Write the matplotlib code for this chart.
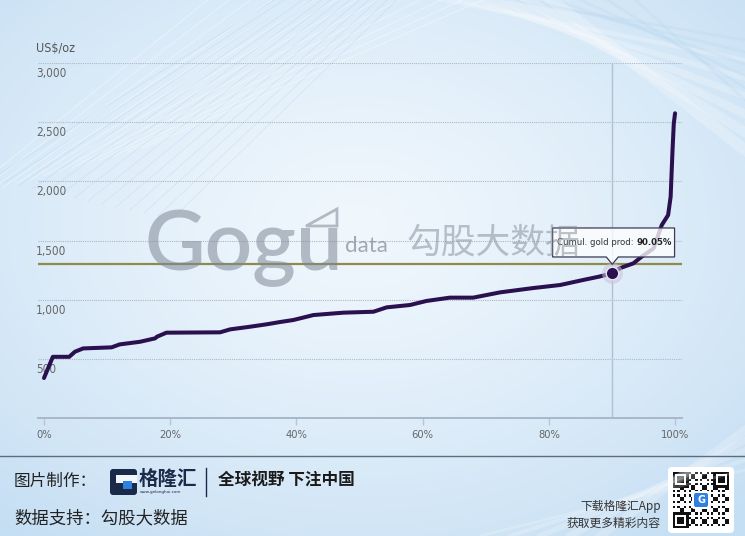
import numpy as np
import matplotlib
matplotlib.use("Agg")
import matplotlib.pyplot as plt
from matplotlib.patches import FancyBboxPatch, Polygon, Rectangle
from matplotlib.transforms import ScaledTranslation, blended_transform_factory

# ---------------- data ----------------
cum_prod_pct = [0, 1.4, 4.0, 4.9, 6.2, 10.7, 12.0, 15.2, 17.6, 17.9, 19.4, 27.9,
                29.5, 32.6, 35.3, 37.4, 39.5, 42.7, 47.4, 52.2, 54.3, 58.0, 60.6,
                64.3, 68.0, 72.3, 77.5, 81.8, 85.4, 88.0, 90.05, 91.3, 93.4, 94.7,
                96.6, 97.9, 98.9, 99.3, 99.6, 99.8, 100.0]
cost_usd_oz = [338, 517, 517, 560, 588, 597, 622, 644, 673, 687, 721, 724,
               749, 771, 792, 811, 828, 870, 890, 898, 935, 955, 989,
               1017, 1017, 1062, 1098, 1124, 1166, 1195, 1223, 1267, 1307, 1363,
               1434, 1631, 1715, 1870, 2265, 2490, 2575]
gold_price = 1300
highlight_pct = 90.05
x_ticks = [0, 20, 40, 60, 80, 100]
x_tick_labels = ["0%", "20%", "40%", "60%", "80%", "100%"]
y_ticks = [500, 1000, 1500, 2000, 2500, 3000]
y_tick_labels = ["500", "1,000", "1,500", "2,000", "2,500", "3,000"]
y_unit = "US$/oz"
tooltip_label = "Cumul. gold prod: "
tooltip_value = "90.05%"

W, H = 745, 536
NARROW = dict(family="DejaVu Sans", fontstretch="condensed")
CJK = ["Noto Sans CJK SC", "DejaVu Sans"]

fig = plt.figure(figsize=(W / 100, H / 100), dpi=100)

# ---------------- background ----------------
bg = fig.add_axes([0, 0, 1, 1], zorder=0)
bg.set_xlim(0, W)
bg.set_ylim(H, 0)
bg.set_axis_off()
yy, xx = np.mgrid[0:H, 0:W]
d = np.sqrt(((xx - 0.48 * W) / (0.75 * W)) ** 2 + ((yy - 0.42 * H) / (0.75 * H)) ** 2)
d = np.clip(d, 0, 1)
c0 = np.array([240, 247, 253]) / 255
c1 = np.array([196, 222, 243]) / 255
img = c0[None, None, :] * (1 - d[..., None] ** 1.3) + c1[None, None, :] * (d[..., None] ** 1.3)
bg.imshow(img, extent=(0, W, H, 0), aspect="auto", interpolation="bilinear")

# decorative thin lines top-left
for k in range(14):
    x0 = -40 + k * 14
    bg.plot([x0, x0 + 260 + k * 8], [200 - k * 4, -10], color="white", lw=0.6, alpha=0.45)
    bg.plot([x0 + 30, x0 + 330 - k * 5], [180 + k * 3, -10], color="#a9cbea", lw=0.5, alpha=0.35)
# soft bands top-right
for k in range(6):
    bg.plot([420 + k * 25, 745], [-5, 60 + k * 18], color="white", lw=3 + k, alpha=0.22)
    bg.plot([480 + k * 30, 745], [-5, 40 + k * 12], color="#b5d4ee", lw=2, alpha=0.22)
# bands bottom right
for k in range(5):
    bg.plot([480 + k * 30, 745], [536, 470 - k * 10], color="white", lw=2 + k, alpha=0.2)

# ---------------- main chart ----------------
ax = fig.add_axes([38 / W, 1 - 418 / H, (682 - 38) / W, (418 - 63) / H], zorder=2)
ax.set_facecolor("none")
ax.set_xlim(-0.95, 101.1)
ax.set_ylim(0, 3000)
for s in ["left", "right", "top"]:
    ax.spines[s].set_visible(False)
ax.spines["bottom"].set_color("#a9b8c8")
ax.spines["bottom"].set_linewidth(1.4)

ax.set_yticks(y_ticks)
ax.set_yticklabels([])
ax.tick_params(axis="y", length=0)
for v in y_ticks:
    ax.axhline(v, color="#aeb8c4", lw=0.8, ls=(0, (1, 1)), zorder=1)

ytr = blended_transform_factory(ax.transAxes, ax.transData) + ScaledTranslation(-2 / 100, -4 / 100, fig.dpi_scale_trans)
for v, lab in zip(y_ticks, y_tick_labels):
    ax.text(0, v, lab, transform=ytr, ha="left", va="top", fontsize=8.5,
            color="#666666", **NARROW)
ax.text(0, 1, y_unit, transform=ax.transAxes + ScaledTranslation(-2 / 100, 15 / 100, fig.dpi_scale_trans),
        ha="left", va="center", fontsize=9, color="#555555", **NARROW)

ax.set_xticks(x_ticks)
ax.set_xticklabels(x_tick_labels, fontsize=8, color="#666666", **NARROW)
ax.tick_params(axis="x", length=5, width=1, color="#b8c6d4", pad=4)

# crosshair
ax.axvline(highlight_pct, color="#b4c0cc", lw=1, zorder=1)
# gold price line
ax.axhline(gold_price, color="#8e8b4c", lw=1.6, zorder=2)
# cost curve
ax.plot(cum_prod_pct, cost_usd_oz, color="#2b1050", lw=2.9, solid_joinstyle="round",
        solid_capstyle="round", zorder=3)

hy = float(np.interp(highlight_pct, cum_prod_pct, cost_usd_oz))
ax.plot([highlight_pct], [hy], "o", ms=15, color="#c9c0dc", alpha=0.55, zorder=4, mec="none")
ax.plot([highlight_pct], [hy], "o", ms=9, color="#2b1050", mec="#e8e4f0", mew=1, zorder=5)

# tooltip
T = ScaledTranslation(highlight_pct, hy, ax.transData)
box = FancyBboxPatch((-59.7, 16.3), 122, 29, boxstyle="round,pad=0,rounding_size=3",
                     transform=T, facecolor="white", alpha=0.78, edgecolor="none", zorder=6)
ax.add_patch(box)
outline = [(-59.7, 16.3), (-6, 16.3), (0, 9), (6, 16.3), (62.3, 16.3), (62.3, 45.3),
           (-59.7, 45.3)]
ax.add_patch(Polygon(outline, closed=True, transform=T, fill=False, edgecolor="#3d3a52",
                     lw=0.9, zorder=7))
ax.add_patch(Polygon([(-5.5, 16.8), (0, 9.7), (5.5, 16.8)], closed=True, transform=T,
                     facecolor="white", edgecolor="none", alpha=0.78, zorder=6))
ax.text(24, 31, tooltip_label, transform=T, ha="right", va="center", fontsize=6.8,
        color="#333333", zorder=8, **NARROW)
ax.text(24, 31, tooltip_value, transform=T, ha="left", va="center", fontsize=6.8,
        color="#222222", fontweight="bold", zorder=8, **NARROW)

# ---------------- watermark ----------------
wm = fig.add_axes([0, 0, 1, 1], zorder=5)
wm.set_xlim(0, W)
wm.set_ylim(H, 0)
wm.set_axis_off()
wm.patch.set_alpha(0)
wcol = "#7f8896"
wm.text(144, 270, "Gogu", fontsize=60, family=["Lato", "DejaVu Sans"], color=wcol,
        alpha=0.55, va="baseline", ha="left", fontweight="semibold")
wm.add_patch(Polygon([(306, 226), (337, 209), (337, 226)], closed=True, fill=False,
                     edgecolor=wcol, lw=2, alpha=0.55))
wm.text(345, 252, "data", fontsize=16, family=["Lato", "DejaVu Sans"], color=wcol,
        alpha=0.7, va="baseline", ha="left")
wm.text(407, 243, "勾股大数据", fontsize=25, family=CJK, color=wcol, alpha=0.5,
        va="center", ha="left")

# ---------------- footer ----------------
bg.plot([0, W], [456, 456], color="#5d6d80", lw=1)
bg.text(14, 481, "图片制作：", fontsize=12, family=CJK, color="#222222", va="center")
bg.text(14, 518, "数据支持：勾股大数据", fontsize=12.5, family=CJK, color="#222222", va="center")
# logo icon
bg.add_patch(FancyBboxPatch((110, 469), 27, 26, boxstyle="round,pad=0,rounding_size=3",
                            facecolor="#1c2a4a", edgecolor="none"))
bg.add_patch(Rectangle((116, 475), 21, 8, facecolor="#f0f6fc", edgecolor="none"))
bg.add_patch(Rectangle((123, 481), 9, 8, facecolor="#2f80e0", edgecolor="none"))
bg.text(139, 479, "格隆汇", fontsize=14, family=CJK, color="#1c2a4a", va="center",
        fontweight="bold")
bg.text(140, 492, "www.gelonghui.com", fontsize=3, family="DejaVu Sans", color="#1c2a4a",
        va="center")
bg.plot([206, 206], [468, 496], color="#1c2a4a", lw=1)
bg.text(218, 481, "全球视野 下注中国", fontsize=12, family=CJK, color="#1a1a1a",
        va="center", fontweight="bold")
bg.text(661, 506, "下载格隆汇App", fontsize=8.5, family=CJK, color="#333333", va="center",
        ha="right")
bg.text(661, 523, "获取更多精彩内容", fontsize=8.5, family=CJK, color="#333333", va="center",
        ha="right")
# QR code (decorative)
bg.add_patch(FancyBboxPatch((668, 467), 66, 66, boxstyle="round,pad=0,rounding_size=4",
                            facecolor="white", edgecolor="none"))
n = 25
cell = 56 / n
ox, oy = 673, 472
for i in range(n):
    for j in range(n):
        fin = (i < 7 and j < 7) or (i < 7 and j >= n - 7) or (i >= n - 7 and j < 7)
        if fin:
            a, b = (i if i < 7 else i - (n - 7)), (j if j < 7 else j - (n - 7))
            on = (a in (0, 6) or b in (0, 6)) or (2 <= a <= 4 and 2 <= b <= 4)
        else:
            on = ((i * 7 + j * 13 + i * j * 3) % 5) < 2
        if on:
            bg.add_patch(Rectangle((ox + j * cell, oy + i * cell), cell, cell,
                                   facecolor="#111111", edgecolor="none"))
bg.add_patch(FancyBboxPatch((692, 491), 18, 18, boxstyle="round,pad=0,rounding_size=2",
                            facecolor="white", edgecolor="none"))
bg.add_patch(FancyBboxPatch((694, 493), 14, 14, boxstyle="round,pad=0,rounding_size=2",
                            facecolor="#2f80e0", edgecolor="none"))
bg.text(701, 500, "G", fontsize=7, color="white", ha="center", va="center", fontweight="bold")

fig.savefig("out.png", dpi=100)
